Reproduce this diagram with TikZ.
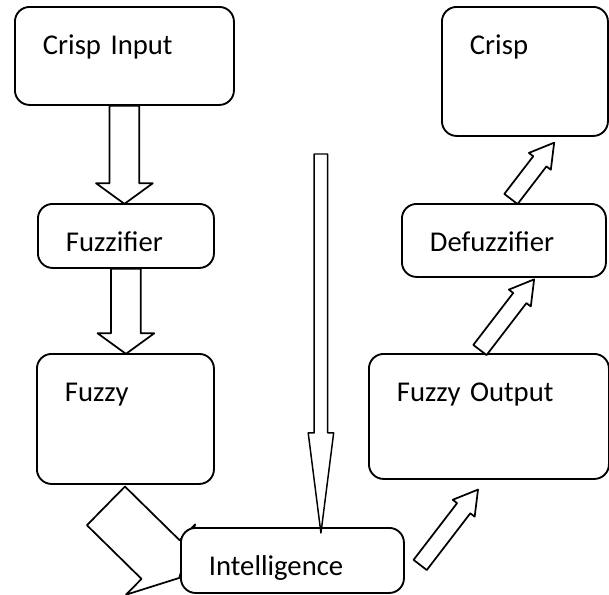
\documentclass[tikz,border=0pt]{standalone}
\usepackage{fontspec}
\setmainfont{Carlito}
\usetikzlibrary{shapes.arrows}
\newcommand{\lblfont}{\fontsize{21.5pt}{26pt}\selectfont}

\begin{document}
\begin{tikzpicture}[x=0.75pt, y=-0.75pt,
    blk/.style 2 args={draw, line width=1.4pt, rounded corners=11pt, fill=white,
      anchor=north west, inner xsep=21pt, inner ysep=0pt, align=left,
      text width=#1, text height=35.5pt, text depth=#2, font=\lblfont},
    fatarrow/.style={single arrow, draw, fill=white, line width=1.3pt, line join=round,
      inner xsep=0pt, outer sep=0pt, anchor=tail}]
    \useasboundingbox (0,0) rectangle (609,594);
    % Left column
    \node[blk={122.25pt}{38pt}] (crispin) at (14,6) {Crisp Input};
    \node[blk={90pt}{12.5pt}] (fuzzifier) at (37,203) {Fuzzifier};
    \node[blk={90.75pt}{62pt}] (fuzzy) at (36,353) {Fuzzy};
    % Down arrows
    \node[fatarrow, rotate=-90, inner ysep=10.5pt, minimum height=73.5pt,
      single arrow head extend=10.125pt, single arrow tip angle=108] (ar1) at (crispin.south) {};
    \node[fatarrow, rotate=-90, inner ysep=10.5pt, minimum height=63.75pt,
      single arrow head extend=10.125pt, single arrow tip angle=108] (ar2) at (fuzzifier.south) {};
    % Fuzzy to Intelligence (under the box)
    \node[fatarrow, rotate=-44.5, inner ysep=19.7pt, minimum height=77.1pt,
      single arrow head extend=16.65pt, single arrow tip angle=124] (ar3) at ([shift={(-19.5,21)}]fuzzy.south) {};
    \node[blk={125.25pt}{13.25pt}] (intel) at (180,527) {Intelligence};
    % Long arrow into Intelligence
    \node[fatarrow, anchor=tip, line width=1.1pt, rotate=-90, inner ysep=4.5pt, minimum height=284.25pt,
      single arrow head extend=4.5pt, single arrow tip angle=14.5] (ar7) at ([shift={(28.5,6)}]intel.north) {};
    % Right column, bottom up
    \node[blk={138pt}{58.25pt}] (fuzzyout) at (368,353) {Fuzzy Output};
    \node[fatarrow, rotate=52.5, inner ysep=5.6pt, minimum height=71.25pt,
      single arrow head extend=4.125pt, single arrow tip angle=61] (ar4) at ([shift={(15.3,4.5)}]intel.east) {};
    \node[blk={111pt}{19.25pt}] (defuzz) at (401,203) {Defuzzifier};
    \node[fatarrow, rotate=52.5, inner ysep=5.6pt, minimum height=66.75pt,
      single arrow head extend=4.125pt, single arrow tip angle=61] (ar5) at ([shift={(-9,-3)}]fuzzyout.north) {};
    \node[blk={82.5pt}{61.25pt}] (crispout) at (441,6) {Crisp};
    \node[fatarrow, rotate=52.5, inner ysep=5.6pt, minimum height=53.25pt,
      single arrow head extend=4.125pt, single arrow tip angle=61] (ar6) at ([shift={(7,-4)}]defuzz.north) {};
\end{tikzpicture}
\end{document}
